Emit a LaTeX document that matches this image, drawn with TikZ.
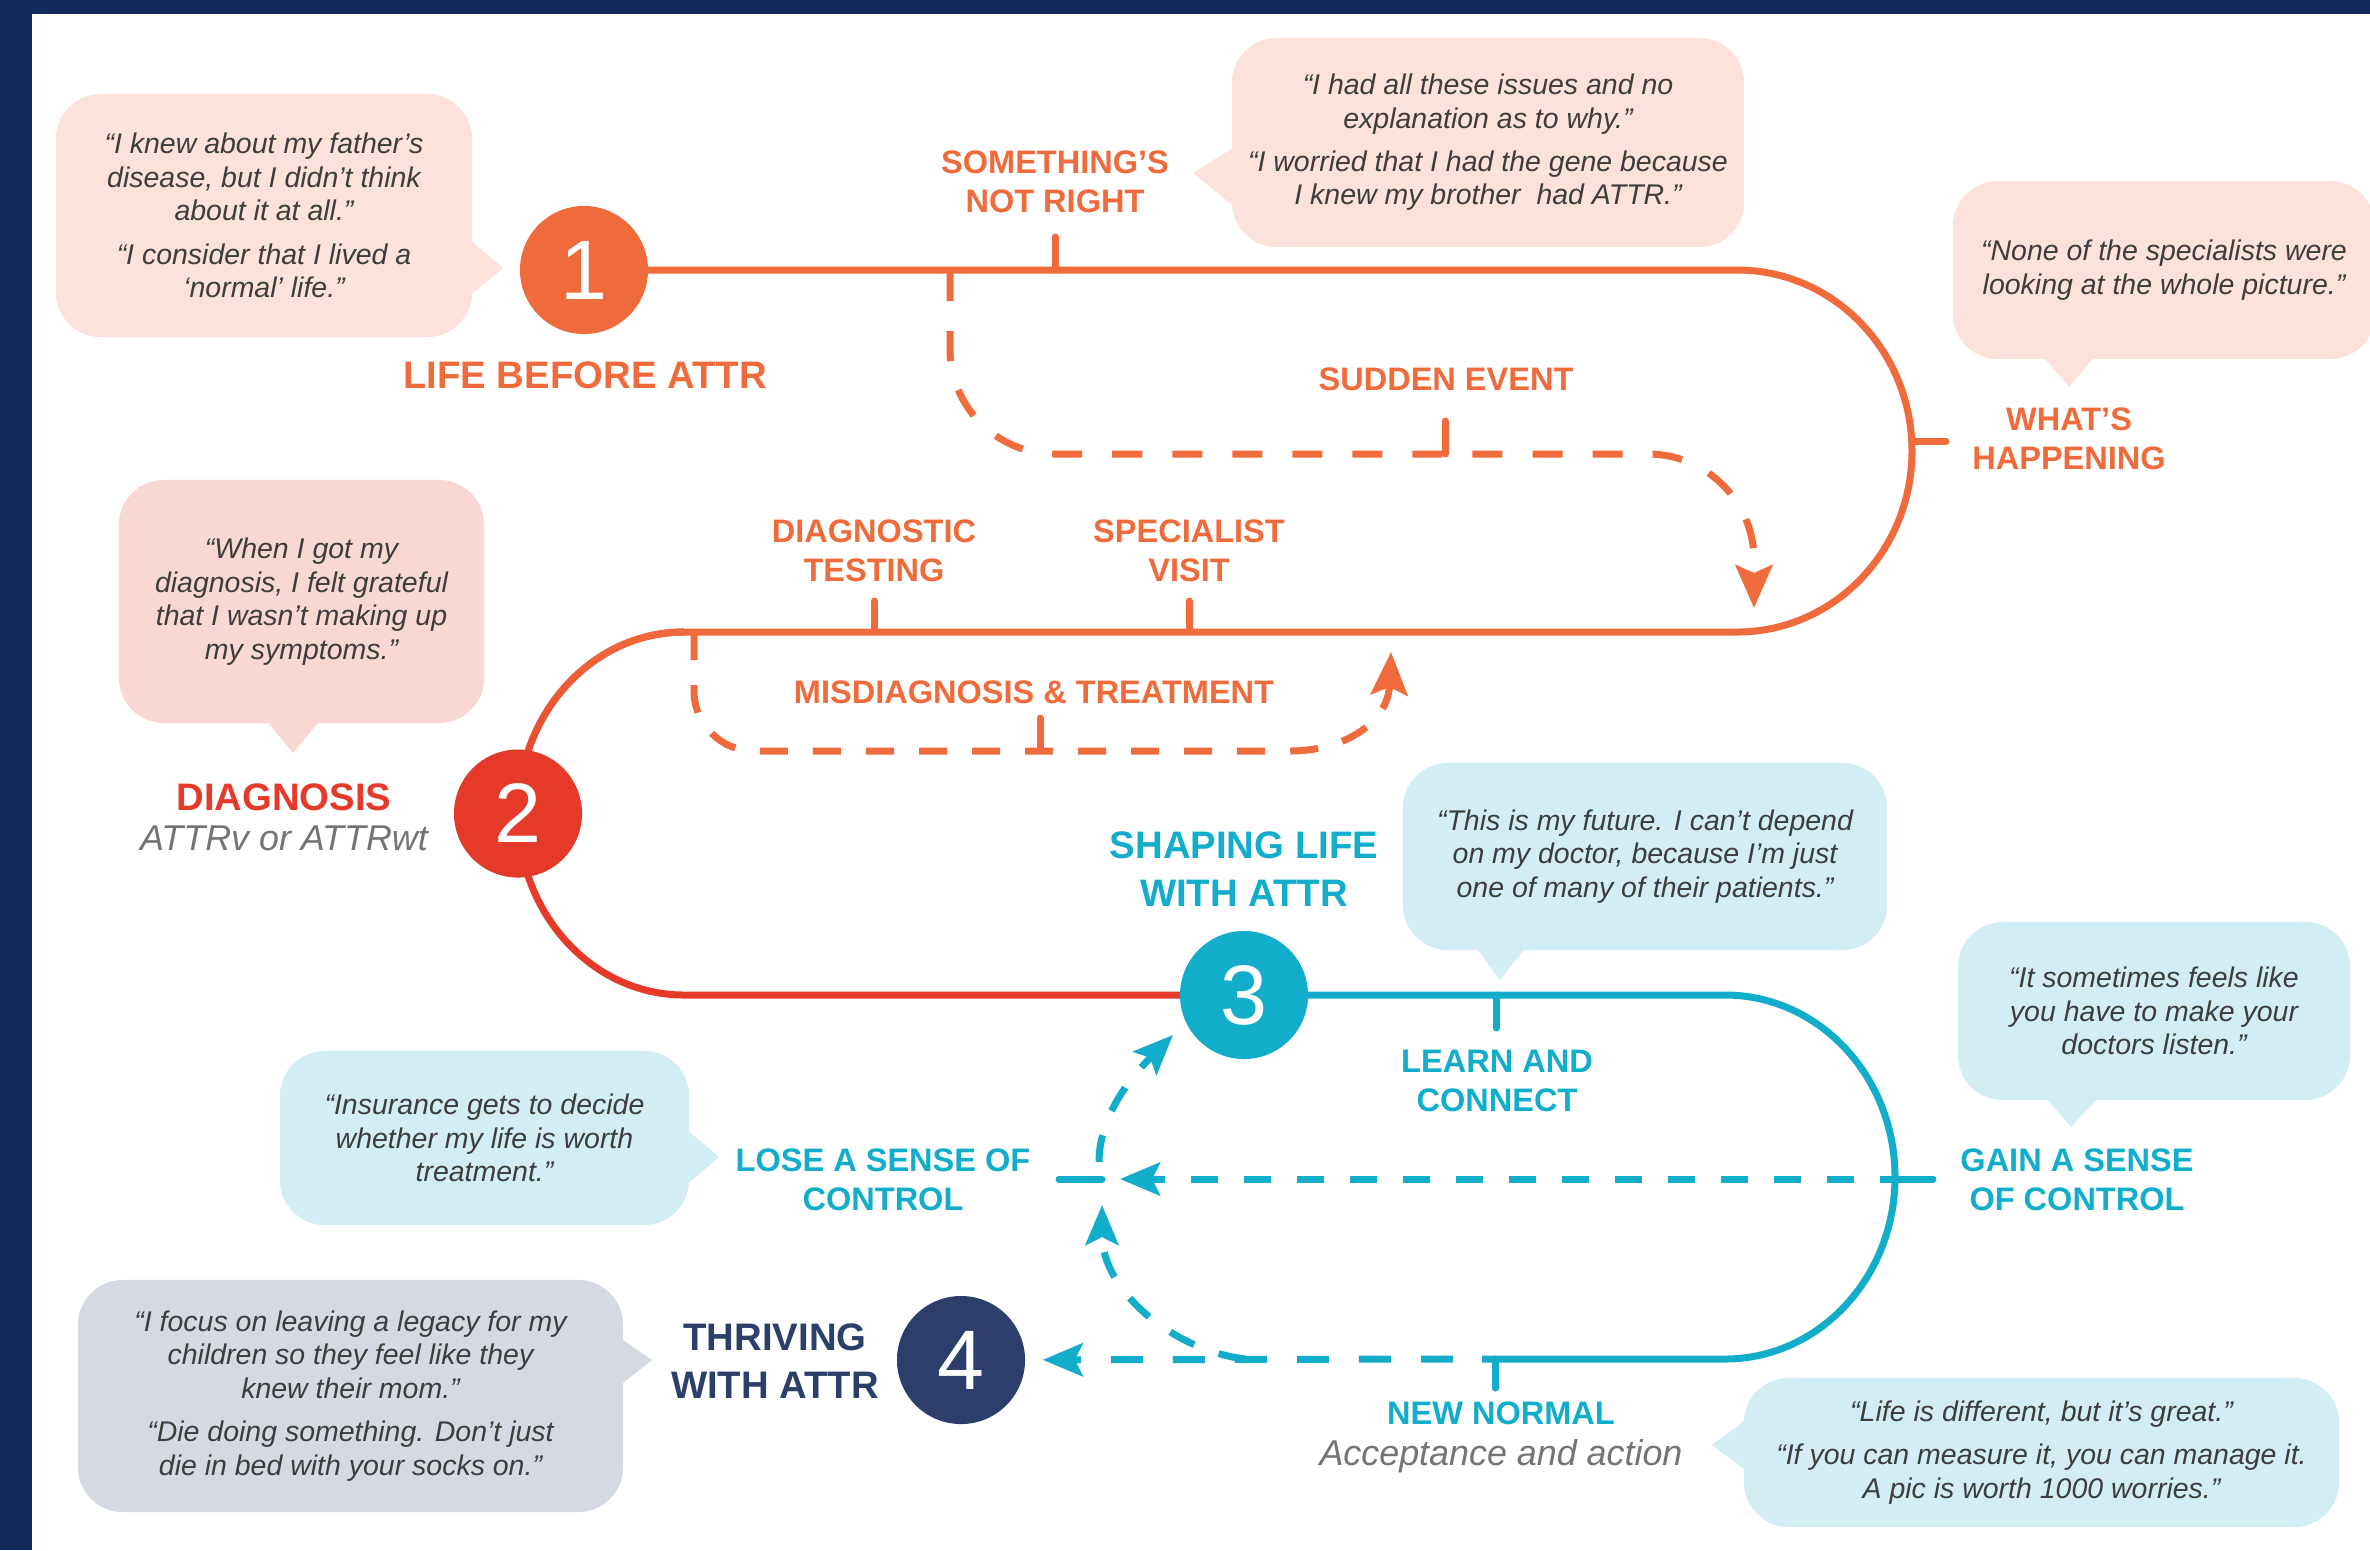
\documentclass[tikz,border=0pt]{standalone}
\usepackage{fontspec}
\setmainfont{Liberation Sans}
\usetikzlibrary{arrows.meta,fadings}
\definecolor{cOr}{HTML}{F06B3C}
\definecolor{cRed}{HTML}{E5392A}
\definecolor{cBlue}{HTML}{12ADCA}
\definecolor{cNavy}{HTML}{2C3F6B}
\definecolor{cFrame}{HTML}{102B5C}
\definecolor{cPink}{HTML}{FCE2DA}
\definecolor{cPinkR}{HTML}{F9D7D3}
\definecolor{cLblue}{HTML}{D2EEF4}
\definecolor{cGrayb}{HTML}{D5D9E1}
\definecolor{cQuote}{HTML}{3D3D3D}
\definecolor{cSub}{HTML}{747474}
\tikzfading[name=fadeTop, top color=transparent!0, bottom color=transparent!100]
\newcommand\qfnt{\fontsize{8.1pt}{9.5pt}\selectfont\itshape}
\newcommand\nfnt{\fontsize{24pt}{24pt}\selectfont}
\newcommand\stfnt{\fontsize{10.9pt}{13.6pt}\selectfont\bfseries}
\newcommand\lbfnt{\fontsize{9.25pt}{11.1pt}\selectfont\bfseries}
\newcommand\itfnt{\fontsize{10.2pt}{12pt}\selectfont\itshape}
\begin{document}
\begin{tikzpicture}[x=0.01cm,y=-0.01cm,
  track/.style={line width=0.07cm},
  tickmark/.style={line width=0.07cm,line cap=round},
  dashO/.style={line width=0.07cm,cOr,dash pattern=on 0.3cm off 0.3cm},
  dashB/.style={line width=0.07cm,cBlue,dash pattern=on 0.27cm off 0.26cm},
  dashBB/.style={line width=0.07cm,cBlue,dash pattern=on 0.32cm off 0.30cm},
  tipO/.style={-{Stealth[length=0.43cm,width=0.37cm,inset=0.08cm]}},
  tipB/.style={-{Stealth[length=0.4cm,width=0.33cm,inset=0.08cm]}},
  bub/.style={rectangle,rounded corners=0.45cm,inner sep=0pt,align=center,text=cQuote,font=\qfnt},
  numc/.style={circle,inner sep=0pt,minimum size=1.28cm,text=white,font=\nfnt},
  stg/.style={align=center,font=\stfnt,inner sep=0pt},
  lbl/.style={align=center,font=\lbfnt,inner sep=0pt},
  itl/.style={font=\itfnt,text=cSub,inner sep=0pt}]

\fill[white] (0,0) rectangle (2370,1550);
\useasboundingbox (0,0) rectangle (2370,1550);
\fill[cFrame] (0,0) rectangle (2370,14);
\fill[cFrame] (0,0) rectangle (32,1550);

% ---------- speech bubbles ----------
\node[bub,fill=cPink,minimum width=4.16cm,minimum height=2.43cm] (q1) at (264,215.5)
 {“I knew about my father’s\\disease, but I didn’t think\\about it at all.”\\[0.1cm]“I consider that I lived a\\‘normal’ life.”};
\fill[cPink] (468,238) -- (503,268) -- (468,297) -- cycle;

\node[bub,fill=cPink,minimum width=5.12cm,minimum height=2.09cm] (q2) at (1488,142.5)
 {“I had all these issues and no\\explanation as to why.”\\[0.1cm]“I worried that I had the gene because\\I knew my brother~ had ATTR.”};
\fill[cPink] (1236,146) -- (1193,173) -- (1236,208) -- cycle;

\node[bub,fill=cPink,minimum width=4.22cm,minimum height=1.78cm] (q3) at (2164,270)
 {“None of the specialists were\\looking at the whole picture.”};
\fill[cPink] (2042,355) -- (2069,387) -- (2096,355) -- cycle;

\node[bub,fill=cPinkR,minimum width=3.65cm,minimum height=2.43cm] (q4) at (301.5,601.5)
 {“When I got my\\diagnosis, I felt grateful\\that I wasn’t making up\\my symptoms.”};
\fill[cPinkR] (265,719) -- (293,753) -- (321,719) -- cycle;

\node[bub,fill=cLblue,minimum width=4.84cm,minimum height=1.87cm] (q5) at (1645,856.5)
 {“This is my future. I can’t depend\\on my doctor, because I’m just\\one of many of their patients.”};
\fill[cLblue] (1475,946) -- (1500,980) -- (1527,946) -- cycle;

\node[bub,fill=cLblue,minimum width=3.92cm,minimum height=1.78cm] (q6) at (2154,1011)
 {“It sometimes feels like\\you have to make your\\doctors listen.”};
\fill[cLblue] (2044,1096) -- (2071,1127) -- (2100,1096) -- cycle;

\node[bub,fill=cLblue,minimum width=4.09cm,minimum height=1.74cm] (q7) at (484.5,1138)
 {“Insurance gets to decide\\whether my life is worth\\treatment.”};
\fill[cLblue] (685,1128) -- (719,1157) -- (685,1186) -- cycle;

\node[bub,fill=cGrayb,minimum width=5.45cm,minimum height=2.32cm] (q8) at (350.5,1396)
 {“I focus on leaving a legacy for my\\children so they feel like they\\knew their mom.”\\[0.1cm]“Die doing something. Don’t just\\die in bed with your socks on.”};
\fill[cGrayb] (619,1337) -- (652,1360) -- (619,1386) -- cycle;

\node[bub,fill=cLblue,minimum width=5.95cm,minimum height=1.49cm] (q9) at (2041.5,1452.5)
 {“Life is different, but it’s great.”\\[0.1cm]“If you can measure it, you can manage it.\\A pic is worth 1000 worries.”};
\fill[cLblue] (1748,1418) -- (1712,1445) -- (1748,1472) -- cycle;

% ---------- key coordinates ----------
\coordinate (p1) at (584,270);
\coordinate (p2) at (518,813.5);
\coordinate (p3) at (1244,995);
\coordinate (p4) at (961,1360);
\coordinate (oR1) at (1737,270);
\coordinate (oRm) at (1912,451);
\coordinate (oR2) at (1737,632);
\coordinate (oL1) at (684,632);
\coordinate (oL2) at (684,995);
\coordinate (bR1) at (1725,995);
\coordinate (bRm) at (1895,1177);
\coordinate (bR2) at (1725,1359);
\coordinate (bEnd) at (1482,1359);

% ---------- main track ----------
\draw[track,cOr] (p1) -- (oR1) .. controls (1833.7,270) and (1912,351) .. (oRm)
   .. controls (1912,551) and (1833.7,632) .. (oR2) -- (oL1);
\draw[track,cRed] (oL1) .. controls (592.3,632) and (518,713.3) .. (p2);
\draw[track,cOr,path fading=fadeTop] (oL1) .. controls (592.3,632) and (518,713.3) .. (p2);
\draw[track,cRed] (p2) .. controls (518,913.7) and (592.3,995) .. (oL2) -- (p3);
\draw[track,cBlue] (p3) -- (bR1) .. controls (1818.9,995) and (1895,1076.5) .. (bRm)
   .. controls (1895,1277.5) and (1818.9,1359) .. (bR2) -- (bEnd);

% ---------- stage circles ----------
\node[numc,fill=cOr]   (c1) at (p1) {1};
\node[numc,fill=cRed]  (c2) at (p2) {2};
\node[numc,fill=cBlue] (c3) at (p3) {3};
\node[numc,fill=cNavy] (c4) at (p4) {4};

% ---------- orange dashed detours ----------
\coordinate (sdStart) at (950,271);
\coordinate (sdEnd) at (1754,608);
\draw[dashO,tipO] (sdStart) -- (950,349) .. controls (950,407) and (997,454) .. (1055,454)
  -- (1648,454) .. controls (1706.5,454) and (1754,501.5) .. (1754,560) -- (sdEnd);

\coordinate (mdStart) at (694,632);
\coordinate (mdEnd) at (1391,652);
\draw[dashO,tipO,dash pattern=on 0.28cm off 0.25cm] (mdStart) -- (694,691) .. controls (694,724) and (721,751) .. (754,751)
  -- (1290,751) .. controls (1345,751) and (1388,722) .. (mdEnd);

% ---------- blue dashed connectors ----------
\coordinate (gainS) at (1907,1179);
\coordinate (loseTip) at (1120,1179);
\draw[dashB,tipB] (gainS) -- (loseTip);
\coordinate (nnDash) at (1453,1359);
\draw[dashBB,tipB,shorten >=0.17cm] (nnDash) -- (c4);

\coordinate (nnCurve) at (1245,1359);
\coordinate (upTip) at (1102,1205);
\draw[dashB,tipB] (nnCurve) .. controls (1172,1350) and (1102,1290) .. (upTip);
\coordinate (upStart) at (1099,1162);
\coordinate (c3Tip) at (1173,1035);
\draw[dashB,tipB] (upStart) .. controls (1099,1110) and (1140,1068) .. (c3Tip);

% ---------- ticks ----------
\draw[tickmark,cOr] (1055,237) -- (1055,270);
\draw[tickmark,cOr] (1445,421) -- (1445,454);
\draw[tickmark,cOr] (1912,441) -- (1946,441);
\draw[tickmark,cOr] (874,601) -- (874,632);
\draw[tickmark,cOr] (1189,601) -- (1189,632);
\draw[tickmark,cOr] (1040,718) -- (1040,751);
\draw[tickmark,cBlue] (1496,995) -- (1496,1028);
\draw[tickmark,cBlue] (1495,1359) -- (1495,1388);
\draw[tickmark,cBlue] (1894,1179) -- (1933,1179);
\draw[tickmark,cBlue] (1059,1179) -- (1102,1179);

% ---------- labels ----------
\node[stg,text=cOr] (tLife) at (585,375) {LIFE BEFORE ATTR};
\node[lbl,text=cOr] (tSome) at (1055,182) {SOMETHING’S\\NOT RIGHT};
\node[lbl,text=cOr] (tWhat) at (2069,439) {WHAT’S\\HAPPENING};
\node[lbl,text=cOr] (tSud) at (1446,379) {SUDDEN EVENT};
\node[lbl,text=cOr] (tDiagT) at (874,551) {DIAGNOSTIC\\TESTING};
\node[lbl,text=cOr] (tSpec) at (1189,551) {SPECIALIST\\VISIT};
\node[lbl,text=cOr] (tMis) at (1034,692) {MISDIAGNOSIS \& TREATMENT};
\node[stg,text=cRed] (tDiag) at (284,797) {DIAGNOSIS};
\node[itl] (tDiagS) at (284,838) {ATTRv or ATTRwt};
\node[stg,text=cBlue] (tShape) at (1244,869) {SHAPING LIFE\\WITH ATTR};
\node[lbl,text=cBlue] (tLearn) at (1497,1081) {LEARN AND\\CONNECT};
\node[lbl,text=cBlue] (tLose) at (883,1180) {LOSE A SENSE OF\\CONTROL};
\node[lbl,text=cBlue] (tGain) at (2077,1180) {GAIN A SENSE\\OF CONTROL};
\node[stg,text=cNavy] (tThrive) at (775,1361) {THRIVING\\WITH ATTR};
\node[lbl,text=cBlue] (tNew) at (1501,1413) {NEW NORMAL};
\node[itl] (tNewS) at (1501,1456) {Acceptance and action};
\end{tikzpicture}
\end{document}
